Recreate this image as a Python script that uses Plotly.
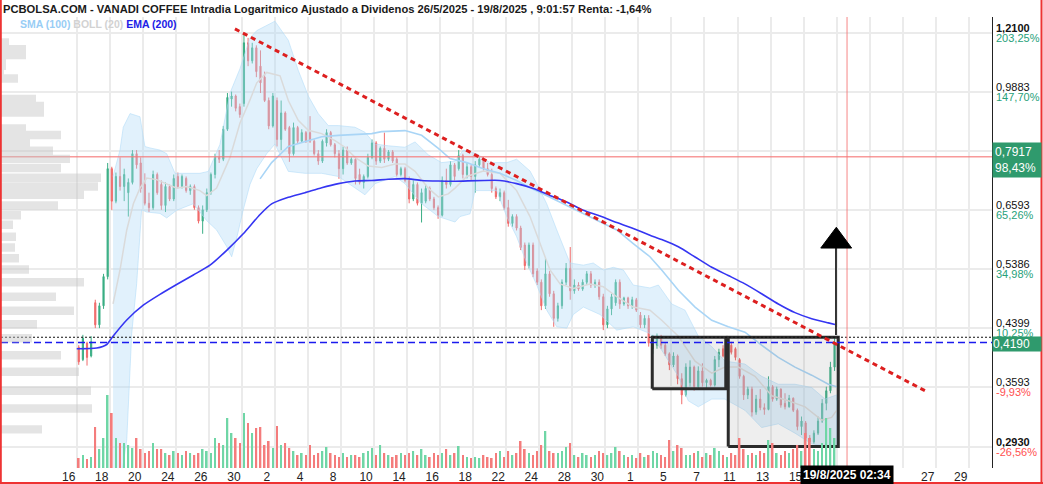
import numpy as np
import plotly.graph_objects as go

# ---------------- data ----------------
# x axis: trading-day index (0 = 16 Jun 2025), labels every 2 sessions
x_tick_vals = list(range(0, 56, 2))
x_tick_text = ['16', '18', '20', '24', '26', '30', '2', '4', '8', '10', '14', '16', '18', '22',
               '24', '28', '30', '1', '5', '7', '11', '13', '15', '', '', '', '27', '29']

trading_days = 46
slots_per_day = 4

opens = [
    0.412, 0.395, 0.418, 0.400,  0.480, 0.445, 0.475, 0.525,  0.760, 0.680, 0.740, 0.715,
    0.700, 0.725, 0.800, 0.775,  0.720, 0.675, 0.665, 0.745,  0.720, 0.670, 0.715, 0.685,
    0.740, 0.715, 0.735, 0.705,  0.715, 0.665, 0.635, 0.660,  0.700, 0.745, 0.790, 0.785,
    0.870, 0.965, 0.975, 0.940,  0.950, 1.170, 1.100, 1.150,  1.080, 1.040, 0.960, 0.880,
    0.960, 0.840, 0.920, 0.875,  0.800, 0.875, 0.835, 0.860,  0.860, 0.835, 0.800, 0.780,
    0.830, 0.860, 0.825, 0.800,  0.760, 0.810, 0.775, 0.785,  0.745, 0.725, 0.740, 0.790,
    0.830, 0.780, 0.815, 0.785,  0.805, 0.785, 0.745, 0.760,  0.730, 0.685, 0.720, 0.675,
    0.680, 0.710, 0.685, 0.665,  0.648, 0.730, 0.720, 0.770,  0.760, 0.795, 0.745, 0.765,
    0.740, 0.770, 0.785, 0.760,  0.745, 0.710, 0.690, 0.700,  0.665, 0.630, 0.645, 0.620,
    0.585, 0.545, 0.585, 0.535,  0.515, 0.475, 0.530, 0.495,  0.455, 0.475, 0.515, 0.540,
    0.500, 0.510, 0.503, 0.515,  0.530, 0.510, 0.515, 0.490,  0.445, 0.470, 0.480, 0.515,
    0.478, 0.488, 0.475, 0.485,  0.460, 0.445, 0.455, 0.410,  0.415, 0.428, 0.415, 0.403,
    0.388, 0.400, 0.370, 0.350,  0.365, 0.385, 0.360, 0.380,  0.365, 0.368, 0.362, 0.395,
    0.410, 0.400, 0.415, 0.410,  0.395, 0.373, 0.350, 0.357,  0.330, 0.345, 0.335, 0.333,
    0.360, 0.345, 0.357, 0.340,  0.336, 0.346, 0.332, 0.314,  0.318, 0.302, 0.298, 0.307,
    0.320, 0.340, 0.355, 0.385,
]
highs = [
    0.415, 0.430, 0.420, 0.428,  0.485, 0.480, 0.530, 0.775,  0.765, 0.750, 0.790, 0.760,
    0.735, 0.810, 0.810, 0.790,  0.748, 0.700, 0.755, 0.750,  0.730, 0.725, 0.720, 0.745,
    0.750, 0.745, 0.740, 0.720,  0.720, 0.670, 0.670, 0.710,  0.750, 0.800, 0.810, 0.880,
    0.985, 0.990, 0.980, 0.950,  1.210, 1.190, 1.170, 1.160,  1.140, 1.060, 0.970, 0.985,
    0.970, 0.960, 0.925, 0.880,  0.890, 0.880, 0.870, 0.865,  0.910, 0.840, 0.810, 0.840,
    0.870, 0.865, 0.830, 0.810,  0.820, 0.820, 0.790, 0.790,  0.760, 0.745, 0.800, 0.840,
    0.835, 0.820, 0.860, 0.810,  0.810, 0.790, 0.765, 0.765,  0.740, 0.730, 0.725, 0.710,
    0.720, 0.715, 0.690, 0.670,  0.740, 0.760, 0.780, 0.775,  0.810, 0.800, 0.775, 0.770,
    0.780, 0.790, 0.790, 0.775,  0.760, 0.715, 0.710, 0.705,  0.683, 0.650, 0.650, 0.625,
    0.590, 0.590, 0.590, 0.540,  0.520, 0.560, 0.535, 0.500,  0.480, 0.520, 0.550, 0.581,
    0.520, 0.515, 0.520, 0.535,  0.535, 0.520, 0.520, 0.495,  0.475, 0.495, 0.520, 0.520,
    0.490, 0.490, 0.490, 0.488,  0.465, 0.460, 0.460, 0.430,  0.432, 0.430, 0.418, 0.405,
    0.405, 0.402, 0.377, 0.390,  0.394, 0.387, 0.386, 0.390,  0.370, 0.370, 0.400, 0.410,
    0.415, 0.418, 0.420, 0.412,  0.397, 0.375, 0.360, 0.360,  0.350, 0.357, 0.340, 0.373,
    0.362, 0.360, 0.358, 0.352,  0.350, 0.347, 0.334, 0.325,  0.320, 0.305, 0.310, 0.325,
    0.345, 0.360, 0.392, 0.428,
]
lows = [
    0.388, 0.393, 0.387, 0.398,  0.440, 0.440, 0.470, 0.520,  0.660, 0.675, 0.705, 0.680,
    0.645, 0.720, 0.760, 0.700,  0.670, 0.655, 0.660, 0.695,  0.660, 0.655, 0.680, 0.680,
    0.710, 0.710, 0.700, 0.695,  0.660, 0.630, 0.608, 0.655,  0.695, 0.735, 0.775, 0.780,
    0.865, 0.940, 0.925, 0.905,  0.940, 1.080, 1.090, 1.040,  0.985, 0.955, 0.870, 0.875,
    0.820, 0.810, 0.865, 0.778,  0.795, 0.830, 0.830, 0.830,  0.830, 0.795, 0.770, 0.775,
    0.820, 0.820, 0.790, 0.734,  0.745, 0.770, 0.770, 0.720,  0.720, 0.710, 0.735, 0.785,
    0.770, 0.775, 0.775, 0.780,  0.775, 0.740, 0.740, 0.725,  0.675, 0.680, 0.670, 0.632,
    0.675, 0.680, 0.660, 0.640,  0.645, 0.710, 0.715, 0.730,  0.755, 0.735, 0.735, 0.730,
    0.700, 0.765, 0.755, 0.740,  0.700, 0.685, 0.680, 0.660,  0.623, 0.623, 0.615, 0.575,
    0.537, 0.540, 0.524, 0.510,  0.468, 0.470, 0.490, 0.442,  0.450, 0.470, 0.510, 0.485,
    0.495, 0.500, 0.500, 0.510,  0.505, 0.505, 0.485, 0.437,  0.440, 0.460, 0.475, 0.470,
    0.475, 0.470, 0.470, 0.465,  0.440, 0.440, 0.413, 0.403,  0.410, 0.410, 0.400, 0.381,
    0.385, 0.363, 0.339, 0.348,  0.360, 0.355, 0.358, 0.360,  0.358, 0.360, 0.360, 0.385,
    0.398, 0.398, 0.402, 0.394,  0.370, 0.344, 0.345, 0.325,  0.327, 0.332, 0.327, 0.332,
    0.342, 0.343, 0.335, 0.333,  0.335, 0.330, 0.310, 0.305,  0.300, 0.293, 0.296, 0.305,
    0.318, 0.332, 0.352, 0.380,
]
closes = [
    0.392, 0.425, 0.398, 0.420,  0.445, 0.475, 0.525, 0.760,  0.680, 0.740, 0.715, 0.745,
    0.725, 0.800, 0.770, 0.710,  0.675, 0.665, 0.745, 0.700,  0.670, 0.715, 0.685, 0.735,
    0.715, 0.740, 0.705, 0.715,  0.665, 0.635, 0.660, 0.700,  0.745, 0.790, 0.785, 0.870,
    0.970, 0.975, 0.935, 0.915,  1.170, 1.100, 1.150, 1.060,  1.020, 0.960, 0.880, 0.975,
    0.840, 0.920, 0.870, 0.800,  0.875, 0.835, 0.860, 0.835,  0.835, 0.800, 0.780, 0.835,
    0.860, 0.825, 0.800, 0.760,  0.810, 0.775, 0.785, 0.735,  0.725, 0.740, 0.790, 0.830,
    0.780, 0.815, 0.785, 0.805,  0.780, 0.745, 0.760, 0.730,  0.685, 0.720, 0.675, 0.700,
    0.710, 0.685, 0.665, 0.648,  0.730, 0.720, 0.770, 0.740,  0.795, 0.745, 0.765, 0.740,
    0.770, 0.785, 0.760, 0.745,  0.710, 0.690, 0.700, 0.665,  0.630, 0.645, 0.620, 0.580,
    0.545, 0.585, 0.530, 0.515,  0.475, 0.530, 0.495, 0.455,  0.475, 0.515, 0.540, 0.500,
    0.510, 0.503, 0.515, 0.530,  0.510, 0.515, 0.490, 0.445,  0.470, 0.490, 0.515, 0.478,
    0.488, 0.475, 0.485, 0.468,  0.445, 0.455, 0.418, 0.428,  0.428, 0.415, 0.403, 0.388,
    0.400, 0.370, 0.350, 0.385,  0.385, 0.360, 0.380, 0.365,  0.368, 0.362, 0.395, 0.405,
    0.400, 0.415, 0.405, 0.398,  0.373, 0.350, 0.357, 0.330,  0.345, 0.335, 0.333, 0.360,
    0.345, 0.357, 0.338, 0.336,  0.346, 0.332, 0.314, 0.320,  0.302, 0.298, 0.307, 0.320,
    0.340, 0.355, 0.385, 0.419,
]
volumes = [
    10, 13, 9, 11,  41, 19, 30, 73,  55, 30, 25, 25,  23, 20, 30, 19,  15, 17, 25, 19,
    19, 15, 13, 17,  15, 13, 17, 15,  13, 15, 19, 17,  15, 30, 25, 23,  50, 35, 30, 25,
    55, 45, 35, 40,  41, 23, 27, 20,  42, 23, 25, 20,  17, 13, 15, 13,  23, 13, 15, 17,
    21, 15, 13, 11,  15, 11, 13, 13,  11, 15, 17, 20,  13, 23, 15, 13,  11, 13, 15, 13,
    15, 17, 13, 19,  13, 11, 15, 13,  15, 19, 13, 15,  22, 13, 11, 10,  11, 10, 13, 11,
    10, 15, 17, 11,  17, 13, 15, 27,  19, 15, 13, 17,  23, 37, 17, 15,  15, 17, 21, 25,
    13, 11, 15, 13,  11, 13, 17, 15,  13, 15, 21, 17,  13, 11, 13, 10,  15, 11, 13, 17,
    15, 13, 11, 28,  17, 23, 20, 13,  13, 15, 17, 11,  15, 13, 20, 17,  13, 11, 15, 13,
    30, 19, 13, 15,  13, 17, 15, 28,  25, 15, 13, 17,  15, 19, 23, 17,  35, 30, 19, 17,
    25, 50, 40, 30,
]

# Bollinger (20)
boll_up_x = [2.20, 2.62, 2.82, 3.23, 3.83, 4.13, 4.44, 5.04, 5.45, 5.95, 6.66, 7.46, 7.97, 8.67, 9.28,
             9.88, 10.49, 10.90, 12.00, 12.81, 13.41, 14.02, 14.62, 15.23, 15.84, 16.85, 17.45, 18.06,
             18.86, 19.87, 20.48, 21.28, 22.09, 22.90, 23.40, 24.21, 25.02, 26.03, 26.63, 27.44, 27.85,
             28.45, 29.06, 29.46, 29.86, 30.67, 31.27, 31.88, 32.48, 33.09, 33.69, 34.70, 35.21, 36.02,
             36.82, 37.63, 38.44, 39.24, 40.45, 41.46, 42.47, 43.48, 44.49, 45.30, 46.00]
boll_up = [0.740, 0.810, 0.876, 0.918, 0.908, 0.820, 0.816, 0.810, 0.800, 0.748, 0.748, 0.748, 0.753,
           0.826, 0.985, 1.070, 1.190, 1.220, 1.260, 1.180, 1.065, 0.975, 0.918, 0.881, 0.881, 0.876,
           0.861, 0.827, 0.822, 0.818, 0.833, 0.797, 0.776, 0.780, 0.810, 0.800, 0.776, 0.776, 0.785,
           0.754, 0.722, 0.674, 0.616, 0.581, 0.550, 0.546, 0.550, 0.537, 0.542, 0.537, 0.510, 0.505,
           0.510, 0.478, 0.468, 0.428, 0.413, 0.393, 0.389, 0.373, 0.363, 0.363, 0.359, 0.345, 0.350]
boll_lo_x = [2.20, 2.62, 3.03, 3.33, 3.63, 3.93, 4.24, 5.04, 5.45, 6.05, 7.06, 7.87, 8.47, 9.08, 9.38,
             9.69, 10.08, 10.49, 10.90, 11.50, 12.00, 12.81, 13.82, 14.83, 15.84, 16.85, 17.45, 18.06,
             19.27, 19.87, 20.88, 21.89, 22.90, 23.20, 23.81, 24.11, 24.61, 25.42, 26.03, 26.63, 27.24,
             27.85, 28.45, 29.06, 29.66, 30.06, 30.67, 31.68, 32.69, 33.69, 34.70, 35.41, 36.42, 37.02,
             37.63, 38.44, 39.24, 40.45, 41.46, 42.47, 43.48, 44.49, 45.50, 46.00]
boll_lo = [0.265, 0.255, 0.300, 0.432, 0.512, 0.660, 0.655, 0.652, 0.642, 0.659, 0.674, 0.636, 0.616,
           0.582, 0.562, 0.600, 0.660, 0.720, 0.760, 0.800, 0.827, 0.753, 0.748, 0.748, 0.740, 0.711,
           0.695, 0.722, 0.740, 0.722, 0.674, 0.645, 0.633, 0.645, 0.651, 0.705, 0.705, 0.705, 0.645,
           0.602, 0.550, 0.510, 0.468, 0.442, 0.440, 0.461, 0.473, 0.461, 0.437, 0.442, 0.432, 0.408,
           0.373, 0.343, 0.336, 0.345, 0.345, 0.332, 0.313, 0.317, 0.307, 0.296, 0.293, 0.293]
boll_mid_x = [2.20, 2.62, 3.03, 3.43, 3.83, 4.24, 4.84, 5.45, 6.05, 6.66, 7.46, 7.87, 8.47, 9.28, 9.88,
              10.49, 10.90, 11.50, 12.31, 12.81, 13.41, 14.02, 14.83, 15.64, 16.24, 16.85, 17.65, 18.46,
              19.27, 19.87, 20.48, 21.28, 21.89, 22.49, 22.90, 23.61, 24.61, 25.62, 26.63, 27.44, 28.05,
              28.65, 29.26, 30.06, 31.07, 31.88, 32.69, 33.69, 34.70, 35.41, 36.42, 37.43, 38.44, 39.24,
              40.05, 41.06, 42.07, 43.08, 44.09, 45.10, 45.70, 46.00]
boll_mid = [0.478, 0.537, 0.616, 0.674, 0.711, 0.736, 0.732, 0.722, 0.711, 0.715, 0.705, 0.693, 0.711,
            0.790, 0.888, 0.962, 1.020, 1.057, 1.045, 0.960, 0.897, 0.867, 0.857, 0.837, 0.818, 0.790,
            0.767, 0.763, 0.772, 0.772, 0.753, 0.711, 0.690, 0.697, 0.711, 0.740, 0.754, 0.748, 0.705,
            0.645, 0.588, 0.537, 0.512, 0.504, 0.512, 0.507, 0.490, 0.473, 0.468, 0.452, 0.428, 0.393,
            0.377, 0.385, 0.385, 0.373, 0.349, 0.343, 0.336, 0.321, 0.324, 0.332]

# SMA (100)
sma_x = [11.10, 11.80, 12.81, 13.82, 14.83, 15.84, 16.85, 17.86, 18.46, 19.87, 20.88, 21.89, 22.60,
         23.61, 24.61, 25.62, 26.63, 27.64, 28.65, 29.66, 30.67, 31.68, 32.69, 33.69, 34.70, 35.41,
         36.42, 37.43, 38.44, 39.44, 40.45, 41.46, 42.47, 43.48, 44.49, 45.50, 46.00]
sma = [0.734, 0.776, 0.820, 0.834, 0.848, 0.852, 0.855, 0.857, 0.863, 0.866, 0.852, 0.815, 0.787,
       0.776, 0.760, 0.748, 0.730, 0.708, 0.689, 0.670, 0.651, 0.633, 0.616, 0.588, 0.562, 0.537,
       0.501, 0.473, 0.452, 0.442, 0.434, 0.415, 0.398, 0.385, 0.3745, 0.363, 0.360]

# EMA (200)
ema_x = [0.00, 1.21, 1.82, 2.20, 3.03, 4.03, 5.04, 6.05, 7.06, 8.07, 9.08, 10.08, 11.10, 11.80, 12.81,
         13.82, 14.83, 15.84, 16.85, 17.86, 18.86, 19.87, 20.88, 21.89, 22.90, 25.62, 26.63, 27.64,
         28.65, 29.66, 30.67, 31.68, 32.69, 33.69, 34.70, 35.41, 36.42, 37.43, 38.44, 39.44, 40.45,
         41.46, 42.47, 43.48, 44.49, 45.50, 45.90]
ema = [0.410, 0.411, 0.416, 0.428, 0.4525, 0.476, 0.494, 0.511, 0.528, 0.546, 0.5745, 0.608, 0.6495,
       0.6735, 0.689, 0.700, 0.712, 0.722, 0.7285, 0.730, 0.733, 0.7345, 0.730, 0.7285, 0.728, 0.730,
       0.722, 0.710, 0.6935, 0.678, 0.659, 0.646, 0.632, 0.619, 0.605, 0.596, 0.5815, 0.5615, 0.542,
       0.527, 0.512, 0.495, 0.478, 0.464, 0.4545, 0.448, 0.4455]

# volume profile (price level, volume)
prof_price = [1.171, 1.145, 1.122, 1.099, 1.081, 1.062, 1.035, 0.965, 0.942, 0.921, 0.872, 0.853,
              0.831, 0.808, 0.786, 0.762, 0.737, 0.715, 0.695, 0.670, 0.648, 0.627, 0.602, 0.580,
              0.559, 0.538, 0.515, 0.490, 0.467, 0.446, 0.425, 0.401, 0.379, 0.355, 0.334, 0.311]
prof_vol = [8, 25, 25, 5, 5, 3, 17, 35, 43, 43, 25, 60, 29, 52, 69, 60, 100, 97, 83, 57, 20, 12, 15,
            14, 18, 28, 83, 55, 73, 36, 31, 60, 78, 90, 91, 41]

# drawings
trend_x = [9.58, 51.45]
trend_y = [1.227, 0.354]
rect1_x = [34.84, 39.29]
rect1_y = [0.3575, 0.4265]
rect2_x = [39.44, 46.10]
rect2_y = [0.2932, 0.4265]
arrow_x = [45.96, 45.96]
arrow_y = [0.4298, 0.579]
head_x = [45.04, 46.91, 45.98]
head_y = [0.579, 0.579, 0.6217]
dotted_level = 0.4265
last_price = 0.4190
cursor_price = 0.7917
cursor_day = 46.63

# right axis (label of the 0.8066 line is hidden by the cursor box in the reference)
y_tick_vals = [0.2930, 0.3593, 0.4399, 0.5386, 0.6593, 0.8066, 0.9883, 1.2100]
y_tick_price = ['0,2930', '0,3593', '0,4399', '0,5386', '0,6593', '', '0,9883', '1,2100']
y_tick_pct = ['-26,56%', '-9,93%', '10,25%', '34,98%', '65,26%', '', '147,70%', '203,25%']

title_text = ('PCBOLSA.COM - VANADI COFFEE Intradia Logaritmico Ajustado a Dividenos '
              '26/5/2025 - 19/8/2025 , 9:01:57 Renta: -1,64%')

# ---------------- geometry / styles ----------------
W, H = 1043, 484
ML, MR, MT, MB = 1, 51, 17, 16
PW, PH = W - ML - MR, H - MT - MB
x_range = [-4.582, 55.405]
y_range = [-0.56474, 0.10660]
GREEN, RED = '#3aae84', '#f06a6a'
VGREEN, VRED = '#6fd6a6', '#f47c7c'
PCT_GREEN, PCT_RED = '#27a17a', '#ff5050'
FONT = 'Liberation Sans, Arial, sans-serif'

cx = [d + (k + 0.5) / slots_per_day for d in range(trading_days) for k in range(slots_per_day)]

fig = go.Figure()

# volume profile (left)
half = 0.0145
px_, py_ = [], []
for p, v in zip(prof_price, prof_vol):
    lo_, hi_ = p * np.exp(-half), p * np.exp(half)
    px_ += [0, v, v, 0, 0, None]
    py_ += [lo_, lo_, hi_, hi_, lo_, None]
fig.add_trace(go.Scatter(x=px_, y=py_, xaxis='x3', yaxis='y', mode='lines', fill='toself',
                         fillcolor='rgba(195,195,195,0.45)', line=dict(width=0), hoverinfo='skip'))

# Bollinger band
fig.add_trace(go.Scatter(x=boll_up_x + boll_lo_x[::-1], y=boll_up + boll_lo[::-1], mode='lines',
                         fill='toself', fillcolor='rgba(175,218,248,0.38)',
                         line=dict(width=1, color='rgba(175,218,248,0.55)'), hoverinfo='skip'))
fig.add_trace(go.Scatter(x=boll_mid_x, y=boll_mid, mode='lines',
                         line=dict(color='#dadada', width=1.5), hoverinfo='skip'))
fig.add_trace(go.Scatter(x=sma_x, y=sma, mode='lines',
                         line=dict(color='#a9d5f6', width=1.6), hoverinfo='skip'))

# candles
fig.add_trace(go.Candlestick(x=cx, open=opens, high=highs, low=lows, close=closes,
                             increasing=dict(line=dict(color=GREEN, width=1), fillcolor=GREEN),
                             decreasing=dict(line=dict(color=RED, width=1), fillcolor=RED),
                             whiskerwidth=0, hoverinfo='skip'))

# rectangles
for rx, ry in ((rect1_x, rect1_y), (rect2_x, rect2_y)):
    fig.add_trace(go.Scatter(x=[rx[0], rx[1], rx[1], rx[0], rx[0]],
                             y=[ry[0], ry[0], ry[1], ry[1], ry[0]], mode='lines', fill='toself',
                             fillcolor='rgba(120,120,120,0.13)',
                             line=dict(color='#2b2b2b', width=3), hoverinfo='skip'))

# EMA
fig.add_trace(go.Scatter(x=ema_x, y=ema, mode='lines', line=dict(color='#3535f2', width=1.6,
                                                              shape='spline', smoothing=0.6),
                         hoverinfo='skip'))

# horizontal reference lines
fig.add_trace(go.Scatter(x=x_range, y=[cursor_price] * 2, mode='lines',
                         line=dict(color='rgba(245,120,120,0.75)', width=1.5), hoverinfo='skip'))
fig.add_trace(go.Scatter(x=x_range, y=[dotted_level] * 2, mode='lines',
                         line=dict(color='#111111', width=1.2, dash='2px,2px'), hoverinfo='skip'))
fig.add_trace(go.Scatter(x=x_range, y=[last_price] * 2, mode='lines',
                         line=dict(color='#1a1aee', width=1.5, dash='7px,4px'), hoverinfo='skip'))
# cursor vertical
fig.add_trace(go.Scatter(x=[cursor_day] * 2, y=[0.25, 1.35], mode='lines',
                         line=dict(color='rgba(245,120,120,0.75)', width=1.2), hoverinfo='skip'))

# trend line
fig.add_trace(go.Scatter(x=trend_x, y=trend_y, mode='lines',
                         line=dict(color='#dd1f1f', width=3, dash='5px,4px'), hoverinfo='skip'))

# arrow
fig.add_trace(go.Scatter(x=arrow_x, y=arrow_y, mode='lines', line=dict(color='#333333', width=2),
                         hoverinfo='skip'))
fig.add_trace(go.Scatter(x=head_x + head_x[:1], y=head_y + head_y[:1], mode='lines', fill='toself',
                         fillcolor='#000000', line=dict(color='#000000', width=1), hoverinfo='skip'))

# volume bars
vcol = [VGREEN if c >= o else VRED for o, c in zip(opens, closes)]
fig.add_trace(go.Bar(x=cx, y=volumes, yaxis='y2', marker=dict(color=vcol, line=dict(width=0)),
                     width=0.1, hoverinfo='skip'))

# ---------------- annotations ----------------
ann = []
ann.append(dict(text='<b>' + title_text + '</b>', xref='paper', yref='paper',
                x=(1 - ML) / PW, y=1 + (MT - 8.5) / PH, xanchor='left', yanchor='middle',
                showarrow=False, font=dict(family=FONT, size=11.2, color='#1a1a1a')))
ann.append(dict(text='<b><span style="color:#98cdf5">SMA (100)</span> '
                     '<span style="color:#d2d2d2">BOLL (20)</span> '
                     '<span style="color:#2020e6">EMA (200)</span></b>',
                xref='paper', yref='paper', x=(18 - ML) / PW, y=1 - (24 - MT) / PH,
                xanchor='left', yanchor='middle', showarrow=False,
                font=dict(family=FONT, size=10.5)))
for i, (v, t1, t2) in enumerate(zip(y_tick_vals, y_tick_price, y_tick_pct)):
    if not t1:
        continue
    bold = i in (0, len(y_tick_vals) - 1)
    ann.append(dict(text=('<b>%s</b>' % t1) if bold else t1, xref='paper', yref='y', x=1,
                    y=np.log10(v), xanchor='left', yanchor='middle', xshift=2, yshift=5,
                    showarrow=False, font=dict(family=FONT, size=11, color='#111111')))
    ann.append(dict(text=t2, xref='paper', yref='y', x=1, y=np.log10(v), xanchor='left',
                    yanchor='middle', xshift=2, yshift=-5, showarrow=False,
                    font=dict(family=FONT, size=11,
                              color=PCT_RED if t2.startswith('-') else PCT_GREEN)))
ann.append(dict(text='0,7917<br>98,43%', xref='paper', yref='y', x=1, y=np.log10(cursor_price),
                xanchor='left', yanchor='middle', yshift=-3, showarrow=False, align='left',
                bgcolor='#2f9a6d', borderpad=2, width=44,
                font=dict(family=FONT, size=12, color='white')))
ann.append(dict(text='0,4190', xref='paper', yref='y', x=1, y=np.log10(last_price),
                xanchor='left', yanchor='middle', yshift=-2, showarrow=False, align='left',
                bgcolor='#2f9a6d', borderpad=0, width=48,
                font=dict(family=FONT, size=12, color='white')))
ann.append(dict(text='<b>19/8/2025 02:34</b>', xref='x', yref='paper', x=cursor_day,
                y=-(475 - (MT + PH)) / PH, xanchor='center', yanchor='middle', showarrow=False,
                bgcolor='#000000', borderpad=2, font=dict(family=FONT, size=12, color='white')))

# red frame
shapes = []
fx = lambda px: (px - ML) / PW
fy = lambda py: (MT + PH - py) / PH
for x0, y0, x1, y1 in ((0.8, 0, 0.8, H), (W - 1.5, 0, W - 1.5, H), (0, H - 1, W, H - 1)):
    shapes.append(dict(type='line', xref='paper', yref='paper', x0=fx(x0), x1=fx(x1),
                       y0=fy(y0), y1=fy(y1), line=dict(color='#ee3333', width=2)))

fig.update_layout(
    width=W, height=H, margin=dict(l=ML, r=MR, t=MT, b=MB),
    paper_bgcolor='white', plot_bgcolor='white', showlegend=False, hovermode=False,
    annotations=ann, shapes=shapes, boxgap=0.6,
    xaxis=dict(range=x_range, tickvals=x_tick_vals, ticktext=x_tick_text, showgrid=True,
               gridcolor='#ebebeb', gridwidth=1.5, zeroline=False, showline=False, ticks='',
               tickfont=dict(family='Liberation Sans Narrow, Arial Narrow, Liberation Sans',
                             size=12, color='#222222'),
               ticklabelshift=-8, rangeslider=dict(visible=False), fixedrange=True),
    yaxis=dict(type='log', range=y_range, side='right', tickvals=y_tick_vals,
               showticklabels=False, showgrid=True, gridcolor='#ebebeb', gridwidth=1.5,
               zeroline=False, showline=True, linecolor='#222222', linewidth=1, ticks='',
               fixedrange=True),
    yaxis2=dict(overlaying='y', range=[0, PH], visible=False, fixedrange=True),
    xaxis3=dict(overlaying='x', range=[0, PW], visible=False, fixedrange=True),
)

fig.write_html('out.html')
